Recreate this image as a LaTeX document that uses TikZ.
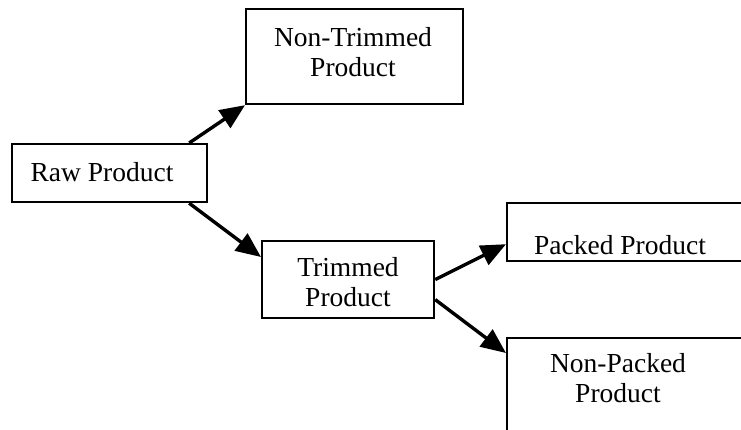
\documentclass[tikz,border=0pt]{standalone}
\usepackage{fontspec}
\setmainfont{Liberation Serif}
\usetikzlibrary{arrows.meta,calc}
\begin{document}
\begin{tikzpicture}[x=1pt,y=-1pt,
  box/.style={draw,line width=2.2pt,inner sep=0pt,anchor=north west},
  lbl/.style={font=\fontsize{27.5}{30}\selectfont,align=center,inner sep=0pt},
  conn/.style={line width=3.4pt,-{Triangle[length=25pt,width=21pt]}}]
\useasboundingbox (0,0) rectangle (741,430);
\clip (0,0) rectangle (741,430);
\fill[white] (0,0) rectangle (741,430);
% boxes
\node[box,minimum width=217pt,minimum height=95pt] (nontrim) at (245,8) {};
\node[box,minimum width=195pt,minimum height=58pt] (raw) at (11,143) {};
\node[box,minimum width=172pt,minimum height=77pt] (trim) at (261,240) {};
\node[box,minimum width=260pt,minimum height=58pt] (packed) at (506,202) {};
\node[box,minimum width=260pt,minimum height=120pt] (nonpacked) at (506,337) {};
% labels
\node[lbl] (tnontrim) at (353,52) {Non-Trimmed\\Product};
\node[lbl] (traw) at (102,172) {Raw Product};
\node[lbl] (ttrim) at (348,282) {Trimmed\\Product};
\node[lbl] (tpacked) at (620,245) {Packed Product};
\node[lbl] (tnonpacked) at (618,378) {Non-Packed\\Product};
% connectors
\coordinate (a1) at ($(raw.north east)+(-19,0)$);
\coordinate (a2) at ($(raw.south east)+(-19,0)$);
\coordinate (b2) at ($(trim.north west)+(0,17)$);
\coordinate (a3) at ($(trim.east)+(0,0)$);
\coordinate (b3) at ($(packed.south west)+(0,-18)$);
\coordinate (a4) at ($(trim.east)+(0,20)$);
\coordinate (b4) at ($(nonpacked.north west)+(0,16)$);
\draw[conn] (a1) -- (nontrim.south west);
\draw[conn] (a2) -- (b2);
\draw[conn] (a3) -- (b3);
\draw[conn] (a4) -- (b4);
\end{tikzpicture}
\end{document}
